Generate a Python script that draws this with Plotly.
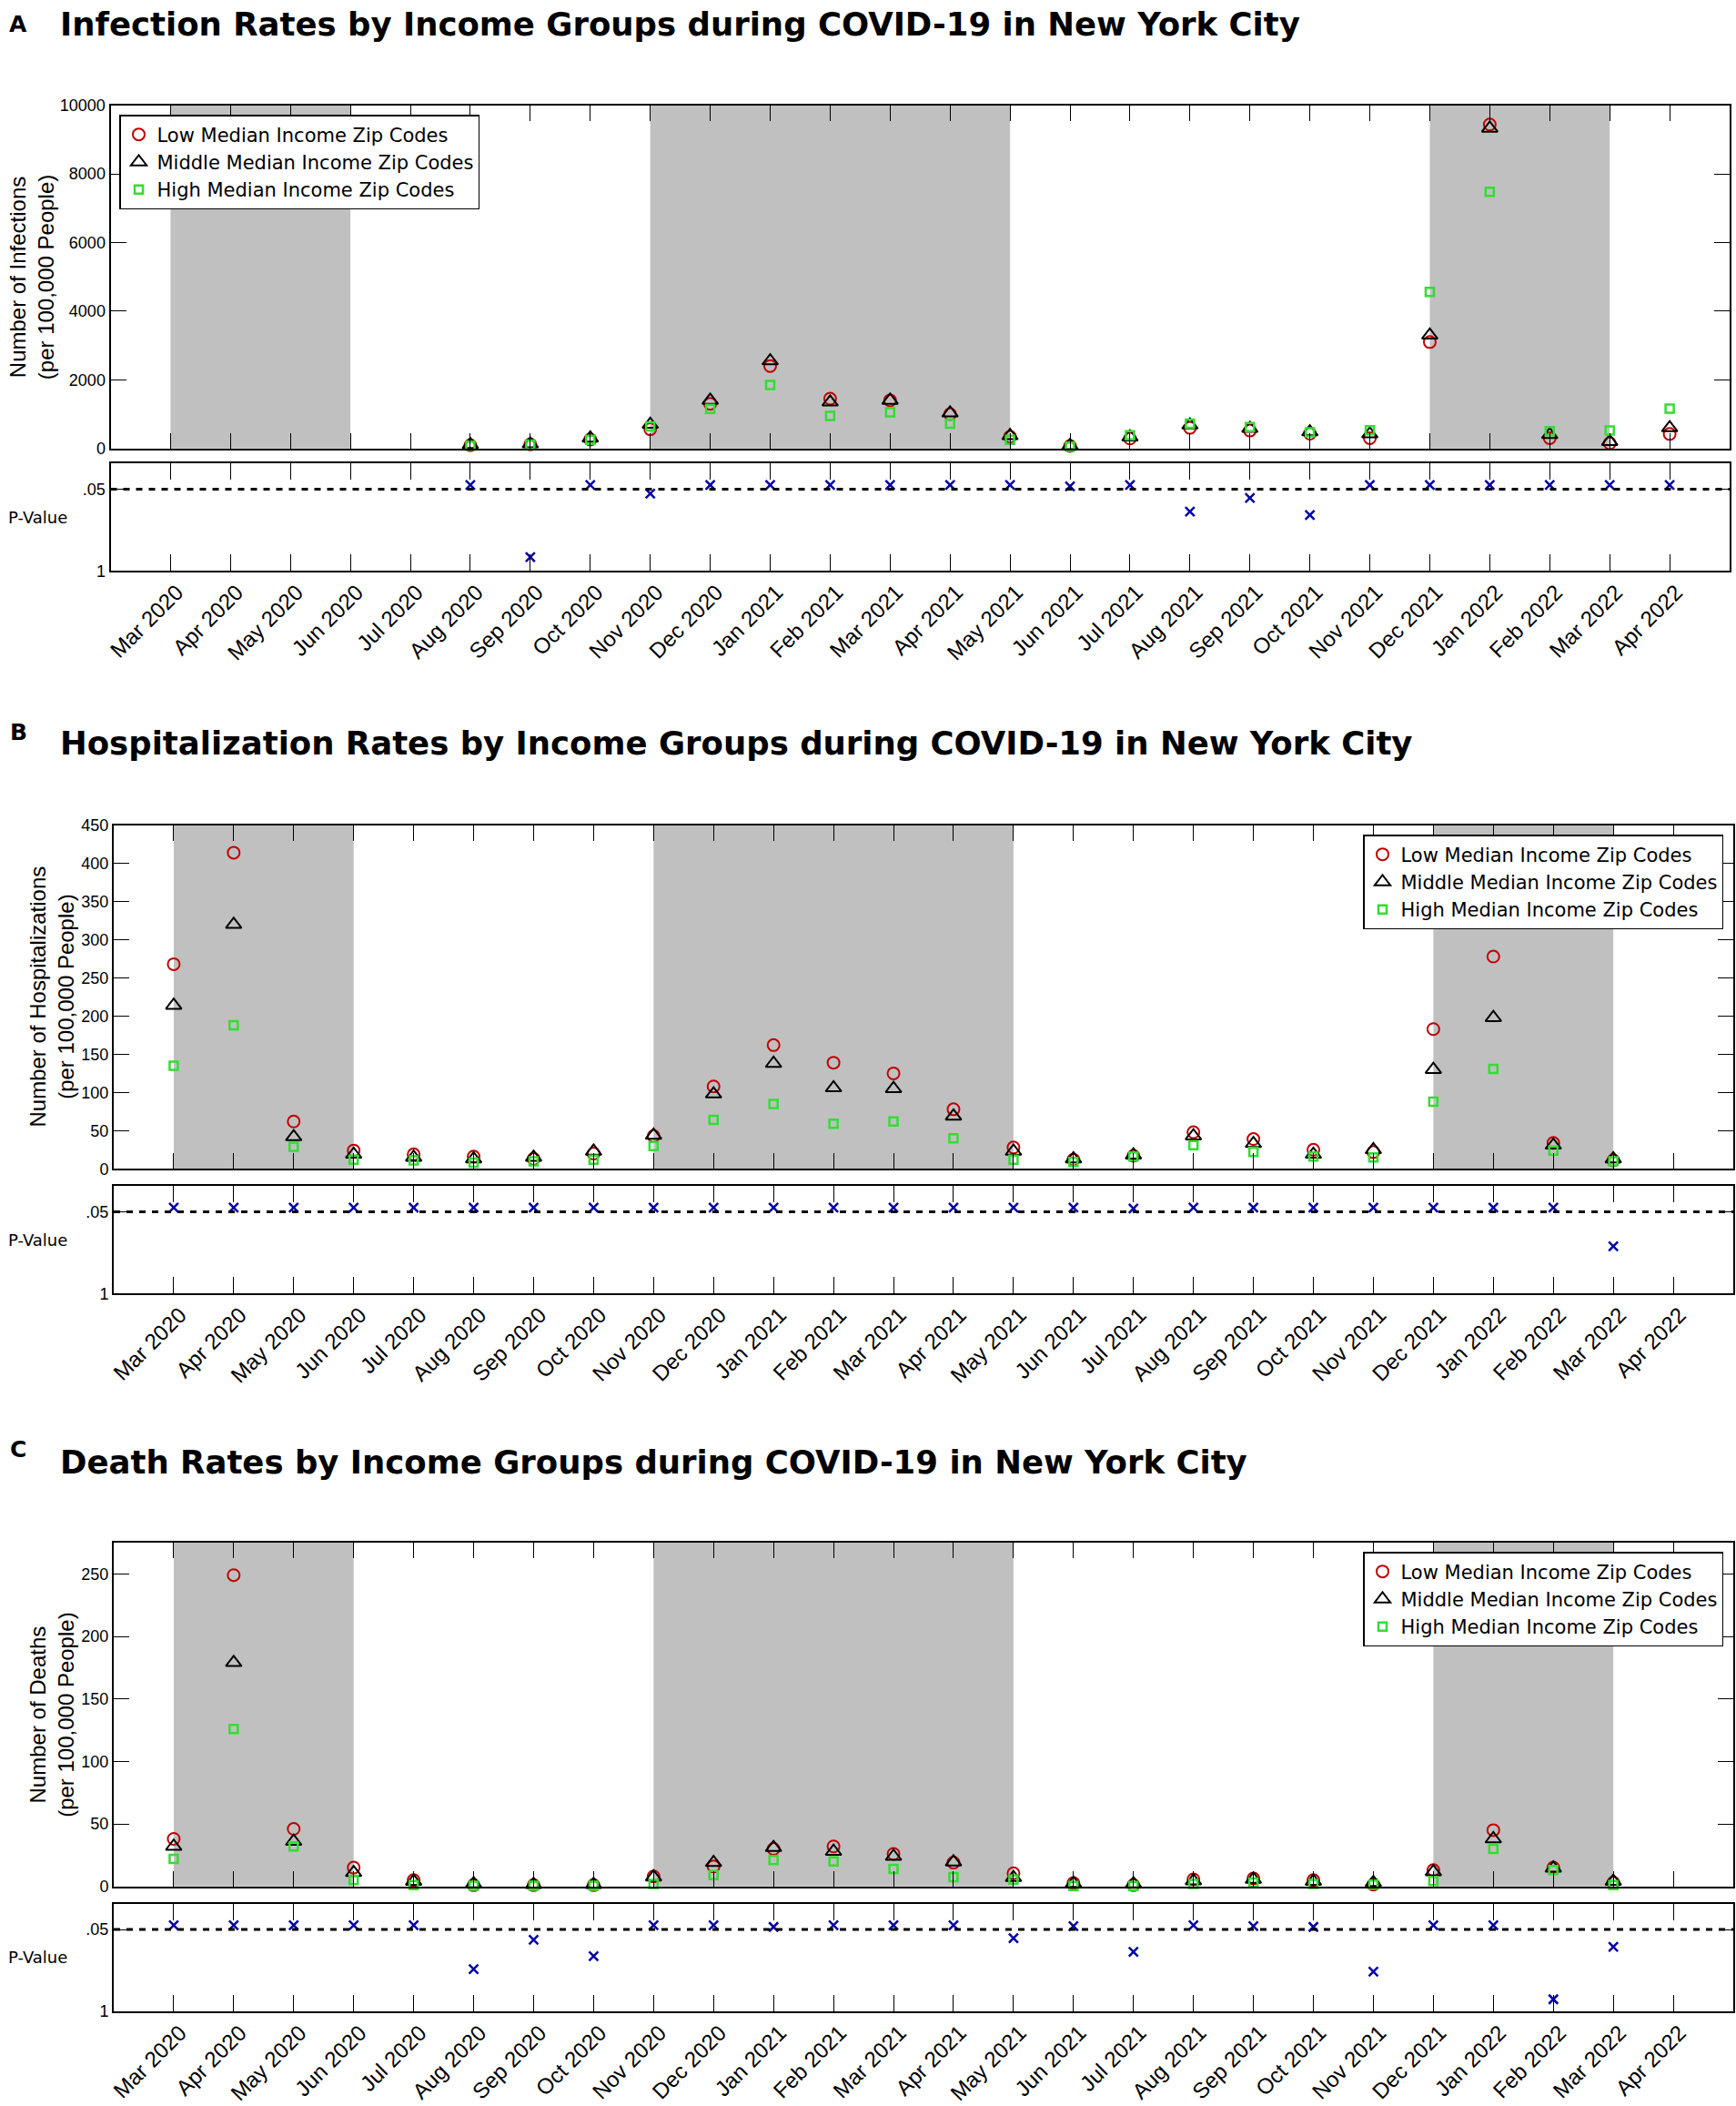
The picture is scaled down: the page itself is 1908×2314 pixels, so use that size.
import plotly.graph_objects as go

W, H = 1908, 2314

months = ["Mar 2020", "Apr 2020", "May 2020", "Jun 2020", "Jul 2020", "Aug 2020",
          "Sep 2020", "Oct 2020", "Nov 2020", "Dec 2020", "Jan 2021", "Feb 2021",
          "Mar 2021", "Apr 2021", "May 2021", "Jun 2021", "Jul 2021", "Aug 2021",
          "Sep 2021", "Oct 2021", "Nov 2021", "Dec 2021", "Jan 2022", "Feb 2022",
          "Mar 2022", "Apr 2022"]
xpos = list(range(1, len(months) + 1))

# grey bands (surge periods), first and last month
surge_periods = [("Mar 2020", "Jun 2020"), ("Nov 2020", "May 2021"), ("Dec 2021", "Mar 2022")]

group_names = ["Low Median Income Zip Codes", "Middle Median Income Zip Codes",
               "High Median Income Zip Codes"]

# infections per 100,000 (no data before Aug 2020)
low_inf = [None] * 5 + [90, 120, 260, 560, 1300, 2400, 1450, 1400, 1000, 340, 70, 290,
                        600, 520, 430, 300, 3100, 9440, 300, 150, 420]
mid_inf = [None] * 5 + [110, 130, 300, 700, 1400, 2550, 1350, 1400, 1030, 370, 80, 330,
                        680, 580, 480, 420, 3300, 9330, 400, 200, 600]
high_inf = [None] * 5 + [80, 110, 250, 640, 1150, 1850, 950, 1050, 720, 250, 50, 380,
                         720, 620, 470, 530, 4560, 7480, 500, 520, 1160]
p_inf = [None] * 5 + [0, 0.84, 0, 0.10, 0, 0, 0, 0, 0, 0, 0.015, 0,
                      0.31, 0.15, 0.35, 0, 0, 0, 0, 0, 0]

# hospitalizations per 100,000 (no data for Apr 2022)
low_hosp = [268, 414, 62, 24, 19, 16, 13, 20, 43, 108, 162, 139, 125, 78, 28, 12, 17,
            48, 39, 25, 22, 183, 278, 34, 11, None]
mid_hosp = [214, 320, 42, 19, 15, 13, 15, 23, 44, 98, 138, 106, 105, 69, 23, 13, 18,
            43, 33, 19, 25, 130, 198, 31, 13, None]
high_hosp = [135, 188, 29, 12, 11, 8, 10, 12, 30, 64, 85, 59, 62, 40, 12, 9, 16,
             31, 22, 16, 15, 88, 131, 24, 10, None]
p_hosp = [0] * 15 + [0, 0.01] + [0] * 7 + [0.45, None]

# deaths per 100,000 (no data for Apr 2022)
low_death = [38, 249, 46, 15, 5, 1, 1, 1, 8, 16, 30, 32, 26, 19, 10.5, 2.7, 1,
             5.6, 6.3, 5, 1.5, 13, 45, 15, 3, None]
mid_death = [32, 179, 36, 11, 4, 2, 1.5, 1.5, 7.5, 19, 31, 28, 24, 19.5, 7, 2.4, 2,
             4.4, 5.6, 4, 3, 11.7, 38, 14.6, 4, None]
high_death = [22, 126, 32, 5, 1, 0.5, 0.5, 0.5, 2, 9, 21, 20, 14, 7.5, 5.5, 0.3, 0.3,
              2, 3, 2, 1.5, 4.4, 30, 13, 1, None]
p_death = [0, 0, 0, 0, 0, 0.51, 0.17, 0.36, 0, 0, 0.02, 0, 0, 0, 0.15, 0.01, 0.31,
           0, 0.01, 0.02, 0.54, 0, 0, 0.86, 0.25, None]

RED, BLACK, GREEN, NAVY, GREY = "#C00000", "#000000", "#33DD33", "#0000A8", "#C0C0C0"
TITLE_FONT = "DejaVu Sans"
TEXT_FONT = "DejaVu Sans"
TICK_FONT = "Liberation Sans"


def fx(px):
    return px / W


def fy(px):
    return 1 - px / H


panels = [
    dict(letter="A", title="Infection Rates by Income Groups during COVID-19 in New York City",
         ytitle="Number of Infections<br>(per 100,000 People)", ytitle_x=35,
         series=[low_inf, mid_inf, high_inf], pvals=p_inf,
         yrange=[0, 10000], ytick=list(range(0, 10001, 2000)),
         xdom=(121.5, 1901), main=(115.7, 492.7), pax=(509.3, 627.3),
         title_y=27, letter_y=27,
         legend=dict(x=fx(131), y=fy(126), xanchor="left", yanchor="top")),
    dict(letter="B", title="Hospitalization Rates by Income Groups during COVID-19 in New York City",
         ytitle="Number of Hospitalizations<br>(per 100,000 People)", ytitle_x=57,
         series=[low_hosp, mid_hosp, high_hosp], pvals=p_hosp,
         yrange=[0, 450], ytick=list(range(0, 451, 50)),
         xdom=(125, 1905), main=(906.7, 1284.3), pax=(1303.3, 1421.3),
         title_y=816, letter_y=804,
         legend=dict(x=fx(1894), y=fy(917), xanchor="right", yanchor="top")),
    dict(letter="C", title="Death Rates by Income Groups during COVID-19 in New York City",
         ytitle="Number of Deaths<br>(per 100,000 People)", ytitle_x=57,
         series=[low_death, mid_death, high_death], pvals=p_death,
         yrange=[0, 275], ytick=list(range(0, 251, 50)),
         xdom=(125, 1905), main=(1695, 2072.7), pax=(2091.7, 2210),
         title_y=1606, letter_y=1592,
         legend=dict(x=fx(1894), y=fy(1705), xanchor="right", yanchor="top")),
]

symbols = [dict(symbol="circle-open", size=13, color=RED, line=dict(width=2, color=RED)),
           dict(symbol="triangle-up-open", size=15, color=BLACK, line=dict(width=2, color=BLACK)),
           dict(symbol="square-open", size=9, color=GREEN, line=dict(width=2.5, color=GREEN))]

fig = go.Figure()
layout = dict(width=W, height=H, margin=dict(l=0, r=0, t=0, b=0, pad=0, autoexpand=False),
              paper_bgcolor="white", plot_bgcolor="rgba(0,0,0,0)",
              font=dict(family=TICK_FONT, color="black"), showlegend=True)
shapes, annotations = [], []

axis_common = dict(showgrid=False, zeroline=False, showline=True, linecolor="black",
                   linewidth=2, ticks="inside", tickcolor="black", tickwidth=1,
                   mirror="ticks", automargin=False)

for i, p in enumerate(panels):
    m, q = 2 * i + 1, 2 * i + 2
    mx, my = ("x", "y") if m == 1 else (f"x{m}", f"y{m}")
    qx, qy = f"x{q}", f"y{q}"
    xd = [fx(p["xdom"][0]), fx(p["xdom"][1])]
    legend_key = "legend" if i == 0 else f"legend{i + 1}"

    layout["xaxis" if m == 1 else f"xaxis{m}"] = dict(
        axis_common, domain=xd, range=[0, len(months) + 1], tickvals=xpos,
        showticklabels=False, ticklen=17, anchor=my)
    layout["yaxis" if m == 1 else f"yaxis{m}"] = dict(
        axis_common, domain=[fy(p["main"][1]), fy(p["main"][0])], range=p["yrange"],
        tickvals=p["ytick"], tickformat="d", ticklen=17, anchor=mx,
        tickfont=dict(family=TICK_FONT, size=18))
    layout[f"xaxis{q}"] = dict(
        axis_common, domain=xd, range=[0, len(months) + 1], tickvals=xpos,
        ticktext=months, tickangle=-45, ticklen=18, anchor=qy,
        ticklabelstandoff=-2, ticklabelshift=7,
        tickfont=dict(family=TICK_FONT, size=24))
    layout[f"yaxis{q}"] = dict(
        axis_common, domain=[fy(p["pax"][1]), fy(p["pax"][0])], range=[1, -0.25],
        tickvals=[0.05, 1], ticktext=[".05", "1"], ticklen=16, anchor=qx,
        tickfont=dict(family=TICK_FONT, size=18))

    for name, vals, sym in zip(group_names, p["series"], symbols):
        fig.add_trace(go.Scatter(x=xpos, y=vals, mode="markers", name=name,
                                 marker=sym, xaxis=mx, yaxis=my, legend=legend_key,
                                 cliponaxis=False))
    fig.add_trace(go.Scatter(x=xpos, y=p["pvals"], mode="markers", showlegend=False,
                             marker=dict(symbol="x-thin-open", size=10, color=NAVY,
                                         line=dict(width=2.5, color=NAVY)),
                             xaxis=qx, yaxis=qy))

    for start, end in surge_periods:
        shapes.append(dict(type="rect", xref=mx, yref=f"{my} domain",
                           x0=months.index(start) + 1, x1=months.index(end) + 1,
                           y0=0, y1=1, fillcolor=GREY, line=dict(width=0), layer="below"))
    # significance threshold
    shapes.append(dict(type="line", xref=f"{qx} domain", yref=qy, x0=0, x1=1,
                       y0=0.05, y1=0.05, line=dict(color="black", width=3, dash="7px,7px")))

    layout[legend_key] = dict(p["legend"], bgcolor="white", bordercolor="black",
                              borderwidth=1.5, font=dict(family=TEXT_FONT, size=21),
                              tracegroupgap=0)

    annotations += [
        dict(text=f"<b>{p['letter']}</b>", x=fx(20), y=fy(p["letter_y"]), xref="paper",
             yref="paper", xanchor="center", yanchor="middle", showarrow=False,
             font=dict(family=TITLE_FONT, size=25, color="black")),
        dict(text=f"<b>{p['title']}</b>", x=fx(64), y=fy(p["title_y"]), xref="paper",
             yref="paper", xanchor="left", yanchor="middle", showarrow=False,
             font=dict(family=TITLE_FONT, size=35.5, color="black")),
        dict(text=p["ytitle"], x=fx(p["ytitle_x"]), y=fy(sum(p["main"]) / 2), xref="paper",
             yref="paper", xanchor="center", yanchor="middle", textangle=-90,
             showarrow=False, font=dict(family=TICK_FONT, size=24, color="black")),
        dict(text="P-Value", x=fx(41), y=fy(sum(p["pax"]) / 2), xref="paper",
             yref="paper", xanchor="center", yanchor="middle", showarrow=False,
             font=dict(family=TEXT_FONT, size=18, color="black")),
    ]

layout["shapes"] = shapes
layout["annotations"] = annotations
fig.update_layout(**layout)

# the page's default body margin would push the fixed-size figure off the window
fig.write_html("out.html", config={"displayModeBar": False},
               post_script="document.body.style.margin = '0px';")
